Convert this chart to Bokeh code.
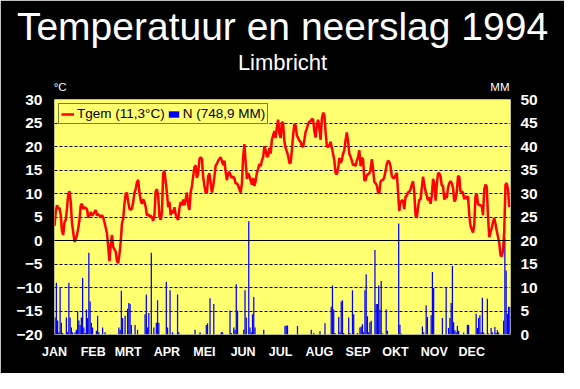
from bokeh.plotting import figure
from bokeh.models import (Range1d, LinearAxis, FixedTicker, Legend, LegendItem,
                          Span, Title)
from bokeh.embed import file_html
from bokeh.resources import INLINE

# ---------------- data ----------------
months = ["JAN", "FEB", "MRT", "APR", "MEI", "JUN", "JUL", "AUG", "SEP", "OKT", "NOV", "DEC"]
month_start = [0, 31, 59, 90, 120, 151, 181, 212, 243, 273, 304, 334]
temp_ticks = [-20, -15, -10, -5, 0, 5, 10, 15, 20, 25, 30]
rain_ticks = [0, 5, 10, 15, 20, 25, 30, 35, 40, 45, 50]

temp = [
    3.1, 6.1, 7.5, 6.8, 6.9, 5.4, 2.0, 1.2, 3.9, 4.4,
    6.8, 9.9, 10.5, 8.2, 3.7, 1.7, -0.3, 0.3, 1.2, 2.6,
    4.4, 7.5, 7.8, 6.7, 7.1, 6.9, 6.7, 4.9, 5.3, 6.1,
    5.3, 5.6, 6.0, 6.5, 5.3, 5.6, 5.3, 4.9, 5.4, 4.9,
    3.9, 2.7, 1.5, -1.4, -4.4, -0.8, 1.2, -1.4, -1.9, -2.4,
    -4.4, -4.8, -2.9, -0.3, 3.7, 4.6, 7.8, 9.9, 10.2, 8.2,
    6.8, 6.5, 6.8, 8.2, 10.2, 10.9, 12.4, 12.9, 10.2, 8.5,
    7.8, 8.8, 8.2, 7.1, 5.3, 5.6, 5.1, 5.3, 4.9, 4.2,
    5.4, 10.5, 10.9, 9.5, 5.1, 4.4, 6.1, 14.3, 14.8, 12.6,
    10.2, 7.1, 8.2, 5.4, 6.5, 5.8, 7.1, 5.6, 4.8, 4.4,
    6.8, 8.2, 7.5, 8.7, 7.5, 8.8, 10.2, 7.5, 6.5, 10.2,
    11.6, 13.7, 15.6, 16.0, 13.3, 14.3, 17.3, 17.7, 17.3, 13.6,
    11.6, 10.2, 10.2, 13.6, 14.3, 12.2, 10.2, 11.6, 13.6, 16.0,
    16.3, 17.0, 17.3, 17.7, 17.0, 16.0, 17.0, 14.6, 12.8, 14.3,
    14.6, 13.9, 13.3, 13.6, 13.3, 12.1, 12.2, 11.7, 10.9, 10.2,
    12.2, 17.7, 20.5, 16.7, 13.1, 14.3, 13.7, 12.8, 11.9, 13.3,
    11.6, 12.6, 14.4, 15.3, 16.3, 15.8, 17.0, 17.7, 20.1, 19.2,
    17.8, 18.0, 19.7, 18.5, 21.4, 22.4, 23.3, 21.8, 24.1, 25.7,
    22.8, 21.8, 25.2, 25.0, 21.1, 19.7, 18.9, 18.0, 16.5, 16.5,
    19.2, 22.4, 24.8, 24.5, 22.4, 21.8, 21.2, 21.0, 20.1, 19.9,
    21.4, 23.1, 23.8, 24.8, 25.3, 25.3, 25.9, 25.7, 23.3, 21.9,
    24.6, 25.7, 23.8, 21.4, 25.9, 27.2, 26.7, 23.1, 20.1, 19.9,
    20.3, 21.0, 19.7, 18.4, 17.0, 14.3, 14.1, 15.3, 17.6, 16.5,
    17.1, 18.5, 19.2, 21.4, 23.0, 21.1, 18.4, 17.8, 17.0, 16.0,
    16.3, 15.8, 17.0, 17.8, 19.2, 15.8, 17.6, 17.3, 12.8, 12.8,
    13.9, 14.1, 14.3, 15.0, 17.3, 15.3, 12.4, 12.2, 11.7, 10.2,
    10.1, 12.6, 12.8, 12.9, 13.5, 14.8, 16.3, 17.0, 16.7, 15.8,
    13.7, 13.3, 13.3, 13.9, 14.4, 10.2, 6.3, 8.2, 8.5, 8.5,
    6.7, 9.4, 9.5, 10.3, 10.3, 10.9, 11.9, 12.6, 10.2, 5.4,
    4.8, 7.1, 8.7, 8.7, 11.2, 13.6, 11.9, 10.5, 9.5, 8.5,
    9.2, 7.8, 9.5, 13.1, 12.2, 8.5, 11.9, 14.3, 14.3, 13.6,
    11.7, 11.6, 8.7, 9.7, 9.0, 11.2, 12.2, 12.6, 12.2, 11.2,
    8.3, 8.7, 10.3, 13.7, 13.6, 10.3, 10.5, 10.1, 8.8, 9.5,
    8.8, 9.4, 5.4, 3.1, 2.4, 1.7, 3.4, 9.5, 9.9, 7.8,
    7.5, 7.5, 7.3, 5.4, 10.9, 11.9, 11.4, 5.1, 0.7, 1.7,
    2.7, 3.9, 4.8, 3.5, 2.0, 0.8, -0.5, -3.1, -3.4, -2.2,
    2.0, 11.9, 12.2, 10.9, 7.1,
]

rain = [
    3.6, 11, 3, 0.5, 10, 2.5, 0.3, 0, 0, 3.6,
    0.5, 11, 3.6, 1.5, 0.5, 0, 0.5, 1, 5, 3,
    2, 3.6, 12, 1.5, 0.3, 5.3, 3.5, 17.4, 7, 2.5,
    1.5, 0, 0, 0.8, 4, 0.5, 0, 0, 1.5, 0,
    0.5, 0, 0, 0, 0, 0, 0, 0, 0, 0,
    0, 1.5, 1, 9.3, 3.5, 0, 4, 0, 5.5, 6.7,
    6.5, 2, 0, 0, 2, 0, 1, 0, 0, 0,
    0, 0, 4.3, 8.5, 1.5, 4.6, 0, 17.4, 0, 1.5,
    0, 2.5, 7.3, 2.5, 0, 0, 0, 0, 0, 11.2,
    1.5, 0, 9.4, 0, 0.5, 0, 0, 0, 8.5, 0.5,
    0, 0, 0, 0, 0, 0, 0, 0, 0, 0,
    0, 0, 1, 0, 0, 0, 0.5, 0, 0, 0,
    0, 2, 2.4, 0, 7.7, 0, 0, 6.5, 0, 0,
    0, 0, 0, 0.5, 0.5, 0, 0, 0, 0, 0,
    5.1, 0.3, 0, 1.5, 1, 10.7, 5.1, 0, 0, 0,
    0, 1, 9.4, 3.6, 0, 24.1, 1.5, 0.5, 4.3, 8,
    1.5, 0, 0, 0, 0, 0, 0, 1, 0, 0,
    0, 0, 0, 0, 0, 0, 0, 0, 0, 0,
    0, 0, 0, 0, 1.8, 1.9, 1.9, 0, 0, 0,
    0, 0, 0, 0, 1.8, 0, 0, 0, 0, 0,
    0, 0, 0, 0, 0, 1, 0, 0.3, 0, 0,
    0, 0, 0.7, 0, 0, 0, 2.4, 0, 0, 0,
    0, 5.9, 10.4, 5.3, 0.3, 0, 0, 3.7, 0.5, 7,
    7.3, 0.3, 0, 0, 0, 3.6, 0.3, 0, 9.4, 4.3,
    0, 0, 0.3, 0, 1.5, 1.7, 2.2, 0.5, 9.4, 12.8,
    3.9, 0.5, 2.6, 2.9, 0, 0, 18, 6.5, 6.5, 10.4,
    5.3, 11.4, 0.2, 0, 0, 5.3, 0.8, 0, 0, 0,
    0, 0, 0, 0, 0, 23.6, 2.1, 0.2, 0, 0,
    0, 0, 0, 0, 0, 0, 0, 0, 0, 0,
    0, 0, 0, 0, 1.7, 0.5, 0, 6.2, 3.7, 0,
    0, 4.1, 13.3, 9.9, 0, 0, 0, 0, 0, 0,
    3.5, 0, 0, 9.9, 0, 1.4, 3.5, 6.7, 14.6, 2.6,
    0.9, 0.5, 1.8, 0.8, 0, 0, 0, 0.4, 0, 0,
    2.1, 2, 0, 0, 0, 0, 0, 4.4, 1.4, 3.5,
    4.1, 0.5, 7.8, 0.4, 0, 0, 7.6, 0.2, 0, 1.4,
    0.5, 0, 1.6, 0.3, 0.9, 0.4, 0, 0, 0, 2.9,
    20.6, 13.6, 4.4, 5.9, 5.9,
]

title_text = "Temperatuur en neerslag 1994"
subtitle_text = "Limbricht"
unit_labels = ["°C", "MM"]
unit_pos = [4.5, 356.5]          # day positions of the unit captions
temp_label = "Tgem (11,3°C)"
rain_label = "N (748,9 MM)"

# ---------------- layout ----------------
W, H = 564, 373
FL, FR, FT, FB = 54, 54, 99, 39
BG = "#FFFF70"
FONT = "Liberation Sans"

p = figure(width=W, height=H, output_backend="svg", toolbar_location=None,
           x_range=Range1d(0, 365), y_range=Range1d(temp_ticks[0], temp_ticks[-1]),
           background_fill_color=BG, border_fill_color="black",
           outline_line_color=None,
           min_border_left=FL, min_border_right=FR,
           min_border_top=FT, min_border_bottom=FB)
p.extra_y_ranges = {"mm": Range1d(rain_ticks[0], rain_ticks[-1])}

days = list(range(len(temp)))
bar_x = [d + 0.5 for d in range(len(rain))]

bars = p.vbar(x=bar_x, top=rain, bottom=0, width=1.0, y_range_name="mm",
              fill_color="#0000FF", line_color=None)
line = p.line(days, temp, line_color="#FF0000", line_width=2.5)

ya = p.yaxis[0]
ya.ticker = FixedTicker(ticks=temp_ticks)
ra = LinearAxis(y_range_name="mm", ticker=FixedTicker(ticks=rain_ticks))
p.add_layout(ra, "right")
xa = p.xaxis[0]
xa.ticker = FixedTicker(ticks=month_start)
xa.major_label_overrides = {s: m for s, m in zip(month_start, months)}
ua = LinearAxis(ticker=FixedTicker(ticks=unit_pos))
ua.major_label_overrides = {s: m for s, m in zip(unit_pos, unit_labels)}
p.add_layout(ua, "above")

for ax, standoff, size, style in ((ya, 12, "15.5px", "bold"), (ra, 10, "15.5px", "bold"),
                                  (xa, 10, "12.5px", "bold"), (ua, 7, "11.5px", "normal")):
    ax.major_label_text_color = "white"
    ax.major_label_text_font = FONT
    ax.major_label_text_font_size = size
    ax.major_label_text_font_style = style
    ax.axis_line_color = None
    ax.major_tick_line_color = None
    ax.minor_tick_line_color = None
    ax.major_tick_out = 0
    ax.major_tick_in = 0
    ax.minor_tick_out = 0
    ax.major_label_standoff = standoff

p.add_layout(Title(text=subtitle_text, align="center", text_color="white",
                   text_font=FONT, text_font_size="22px", text_font_style="normal",
                   standoff=5), "above")
p.add_layout(Title(text=title_text, align="center", text_color="white",
                   text_font=FONT, text_font_size="39px", text_font_style="normal",
                   standoff=-4), "above")

p.xgrid.visible = False
p.ygrid.ticker = FixedTicker(ticks=temp_ticks[1:-1])
p.ygrid.grid_line_color = "black"
p.ygrid.grid_line_dash = "3 2"
p.ygrid.grid_line_width = 1
p.add_layout(Span(location=0, dimension="width", line_color="black", line_width=1))

legend = Legend(items=[LegendItem(label=temp_label, renderers=[line]),
                       LegendItem(label=rain_label, renderers=[bars])],
                orientation="horizontal", location="top_left",
                label_text_font=FONT, label_text_font_size="13.5px",
                label_text_color="black",
                glyph_width=13, glyph_height=8, label_height=13,
                label_standoff=3, spacing=2, padding=2, margin=4,
                border_line_color="black", border_line_width=1,
                background_fill_color=BG, background_fill_alpha=1.0)
p.add_layout(legend)

open("out.html", "w").write(file_html(p, INLINE))
